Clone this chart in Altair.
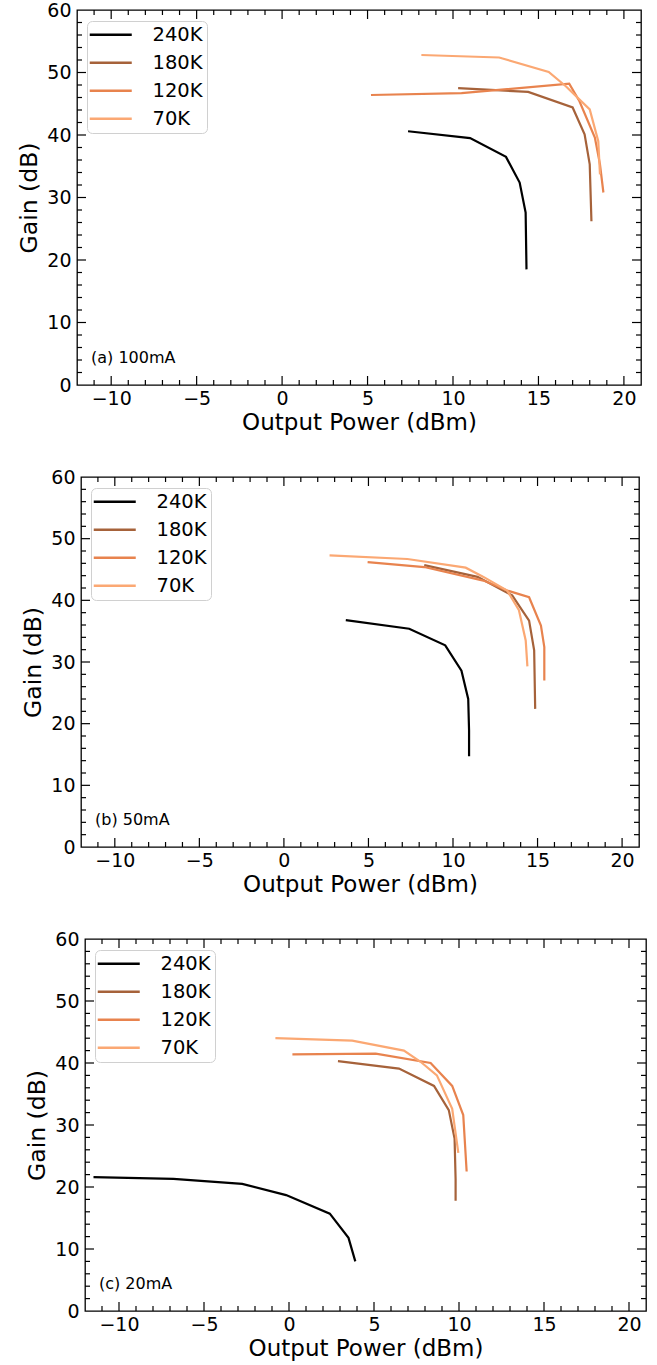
import altair as alt
import pandas as pd

temps = ["240K", "180K", "120K", "70K"]
colors = ["#000000", "#a6623a", "#e8834e", "#fba873"]

# ---- panel (a) 100mA ----
a_240_x = [7.37, 11.0, 13.1, 13.9, 14.25, 14.3]
a_240_y = [40.6, 39.5, 36.5, 32.4, 27.6, 18.5]
a_180_x = [10.3, 14.4, 17.0, 17.7, 18.0, 18.1]
a_180_y = [47.5, 46.9, 44.4, 40.1, 35.3, 26.2]
a_120_x = [5.2, 10.5, 16.8, 17.4, 18.3, 18.6, 18.8]
a_120_y = [46.4, 46.7, 48.2, 45.4, 39.6, 35.3, 30.8]
a_70_x = [8.15, 12.7, 15.6, 16.6, 18.0, 18.5, 18.6]
a_70_y = [52.8, 52.4, 50.1, 47.8, 44.1, 39.0, 33.7]

# ---- panel (b) 50mA ----
b_240_x = [3.66, 7.41, 9.54, 10.5, 10.9, 10.95, 10.95]
b_240_y = [36.8, 35.4, 32.7, 28.6, 24.0, 18.9, 14.7]
b_180_x = [8.3, 11.45, 13.5, 14.5, 14.8, 14.86]
b_180_y = [45.7, 43.8, 40.8, 36.7, 31.9, 22.4]
b_120_x = [4.95, 8.3, 11.8, 13.2, 14.5, 15.2, 15.4, 15.4]
b_120_y = [46.2, 45.4, 43.2, 41.6, 40.5, 35.9, 32.4, 27.0]
b_70_x = [2.7, 7.3, 10.75, 11.8, 13.2, 13.9, 14.3, 14.4]
b_70_y = [47.3, 46.7, 45.3, 43.8, 41.6, 38.4, 33.5, 29.3]

# ---- panel (c) 20mA ----
c_240_x = [-11.5, -6.8, -2.75, -0.17, 2.4, 3.5, 3.9]
c_240_y = [21.6, 21.3, 20.5, 18.7, 15.7, 11.8, 8.0]
c_180_x = [2.88, 6.47, 8.53, 9.4, 9.74, 9.8, 9.8]
c_180_y = [40.3, 39.1, 36.3, 32.4, 27.8, 21.3, 17.8]
c_120_x = [0.2, 5.1, 8.33, 9.6, 10.25, 10.45]
c_120_y = [41.4, 41.5, 40.0, 36.3, 31.6, 22.5]
c_70_x = [-0.8, 3.72, 6.76, 7.74, 8.7, 9.6, 9.96]
c_70_y = [44.0, 43.6, 42.0, 40.2, 38.0, 32.6, 25.5]

panel_labels = ["(a) 100mA", "(b) 50mA", "(c) 20mA"]

x_major = [-10, -5, 0, 5, 10, 15, 20]
x_minor = [v for v in range(-11, 21) if v % 5 != 0]
y_labels = [0, 10, 20, 30, 40, 50, 60]
y_major = [10, 20, 30, 40, 50]
y_minor = [v for v in range(2, 60, 2) if v % 10 != 0]

FONT = "DejaVu Sans"
xscale = alt.Scale(domain=[-12, 21], nice=False, zero=False)
yscale = alt.Scale(domain=[0, 60], nice=False, zero=False)

xaxis = alt.Axis(values=x_major, title="Output Power (dBm)", ticks=False, domain=False,
                 grid=False, labelFontSize=19, labelPadding=4, titleFontSize=23,
                 titlePadding=3, labelFlush=False)
yaxis = alt.Axis(values=y_labels, title="Gain (dB)", ticks=False, domain=False,
                 grid=False, labelFontSize=19, labelPadding=6, titleFontSize=23.5,
                 titlePadding=5, labelFlush=False)


def panel(xs_list, ys_list, label, W, H):
    rows = []
    for t, xs, ys in zip(temps, xs_list, ys_list):
        for i, (x, y) in enumerate(zip(xs, ys)):
            rows.append({"Temp": t, "P": x, "G": y, "i": i})
    df = pd.DataFrame(rows)

    lines = alt.Chart(df).mark_line(strokeWidth=2.2, clip=True).encode(
        x=alt.X("P:Q", scale=xscale, axis=xaxis),
        y=alt.Y("G:Q", scale=yscale, axis=yaxis),
        color=alt.Color("Temp:N", scale=alt.Scale(domain=temps, range=colors),
                        legend=alt.Legend(
                            title=None, orient="none", legendX=10, legendY=11,
                            symbolType="M-2.625,0H2.625", symbolSize=256,
                            symbolStrokeWidth=2.4, symbolOffset=10,
                            labelFontSize=19.5, labelFont=FONT, labelColor="black",
                            padding=4, rowPadding=7, labelOffset=32,
                            strokeColor="#d0d0d0", fillColor="rgba(255,255,255,0.85)",
                            cornerRadius=5)),
        order=alt.Order("i:Q"),
    )

    layers = [lines]
    for vals, L in ((x_major, 9), (x_minor, 5)):
        d = pd.DataFrame({"v": vals})
        layers.append(alt.Chart(d).mark_rule(color="black", strokeWidth=1.2).encode(
            x=alt.X("v:Q", scale=xscale, axis=xaxis), y=alt.value(H), y2=alt.value(H - L)))
        layers.append(alt.Chart(d).mark_rule(color="black", strokeWidth=1.2).encode(
            x=alt.X("v:Q", scale=xscale, axis=xaxis), y=alt.value(0), y2=alt.value(L)))
    for vals, L in ((y_major, 9), (y_minor, 5)):
        d = pd.DataFrame({"v": vals})
        layers.append(alt.Chart(d).mark_rule(color="black", strokeWidth=1.2).encode(
            y=alt.Y("v:Q", scale=yscale, axis=yaxis), x=alt.value(0), x2=alt.value(L)))
        layers.append(alt.Chart(d).mark_rule(color="black", strokeWidth=1.2).encode(
            y=alt.Y("v:Q", scale=yscale, axis=yaxis), x=alt.value(W), x2=alt.value(W - L)))

    tdf = pd.DataFrame({"t": [label]})
    layers.append(alt.Chart(tdf).mark_text(align="left", baseline="middle", fontSize=16,
                                           font=FONT, color="black").encode(
        x=alt.value(14), y=alt.value(H - 27), text="t:N"))

    return alt.layer(*layers).properties(width=W, height=H)


def spacer(w):
    return alt.Chart(pd.DataFrame({"s": [0]})).mark_point(opacity=0).encode(
        x=alt.value(0), y=alt.value(0)
    ).properties(width=w, height=1, view=alt.ViewBackground(strokeOpacity=0))


def row(p, w):
    return alt.hconcat(spacer(w), p, spacing=0).resolve_scale(
        color="independent").resolve_legend(color="independent")


p1 = panel([a_240_x, a_180_x, a_120_x, a_70_x], [a_240_y, a_180_y, a_120_y, a_70_y],
           panel_labels[0], 564, 375)
p2 = panel([b_240_x, b_180_x, b_120_x, b_70_x], [b_240_y, b_180_y, b_120_y, b_70_y],
           panel_labels[1], 558, 370)
p3 = panel([c_240_x, c_180_x, c_120_x, c_70_x], [c_240_y, c_180_y, c_120_y, c_70_y],
           panel_labels[2], 561, 372)

chart = alt.vconcat(row(p1, 1), row(p2, 7), row(p3, 10.4), spacing=32).resolve_scale(
    color="independent").resolve_legend(color="independent").properties(
    padding={"left": 11, "top": 0, "right": 0, "bottom": 0}
).configure(font=FONT).configure_view(stroke="black", strokeWidth=1.3).configure_axis(
    labelColor="black", titleColor="black", titleFontWeight="normal", labelFont=FONT,
    titleFont=FONT)

chart.save("out.html", embed_options={"renderer": "svg", "actions": False})
